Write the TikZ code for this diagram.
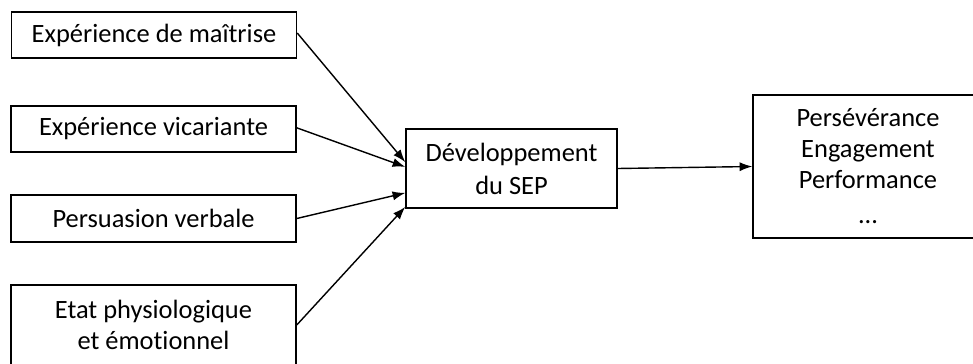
\documentclass[tikz,border=0pt]{standalone}
\usepackage{fontspec}
\setmainfont[Ligatures=NoCommon]{Carlito}
\usetikzlibrary{arrows.meta}
\begin{document}
\begin{tikzpicture}[x=0.025cm,y=-0.025cm,
source/.style ={rectangle, draw=black, line width=1pt,
  minimum width=7.125cm, minimum height=1.15cm,
  align=center, inner sep=0pt,
  font=\fontsize{18.8pt}{22pt}\selectfont
},
core/.style ={rectangle, draw=black, line width=1pt,
  minimum width=5.275cm, minimum height=1.975cm,
  align=center, inner sep=0pt,
  font=\fontsize{18.8pt}{23.5pt}\selectfont
},
effect/.style ={rectangle, draw=black, line width=1pt,
  minimum width=5.75cm, minimum height=3.575cm,
  align=center, inner sep=0pt,
  font=\fontsize{18.8pt}{22pt}\selectfont
},
link/.style ={line width=1pt, -{Latex[length=9pt,width=6.5pt]}}]
\useasboundingbox (0,0) rectangle (973,363);
\node (maitrise) at (154,35) [source] {Expérience de maîtrise};
\node (vicar) at (153.5,129) [source] {Expérience vicariante};
\node (persu) at (153.5,218.5) [source, minimum height=1.175cm] {Persuasion verbale};
\node (etat) at (153.5,325) [source, minimum height=2cm] {Etat physiologique\\et émotionnel};
\node (sep) at (511.5,168.5) [core] {Développement\\du SEP};
\node (out) at (868,166.5) [effect] {Persévérance\\Engagement\\Performance\\[3pt]...};
% fleches vers le SEP
\draw[link] ([yshift=0.05cm]maitrise.east) -- ([yshift=0.16cm]sep.west);
\draw[link] ([yshift=0.03cm]vicar.east) -- ([yshift=0.04cm]sep.west);
\draw[link] (persu.east) -- ([yshift=-0.61cm]sep.west);
\draw[link] (etat.east) -- ([yshift=-0.96cm]sep.west);
\draw[link] (sep.east) -- (out.west);
\end{tikzpicture}
\end{document}
